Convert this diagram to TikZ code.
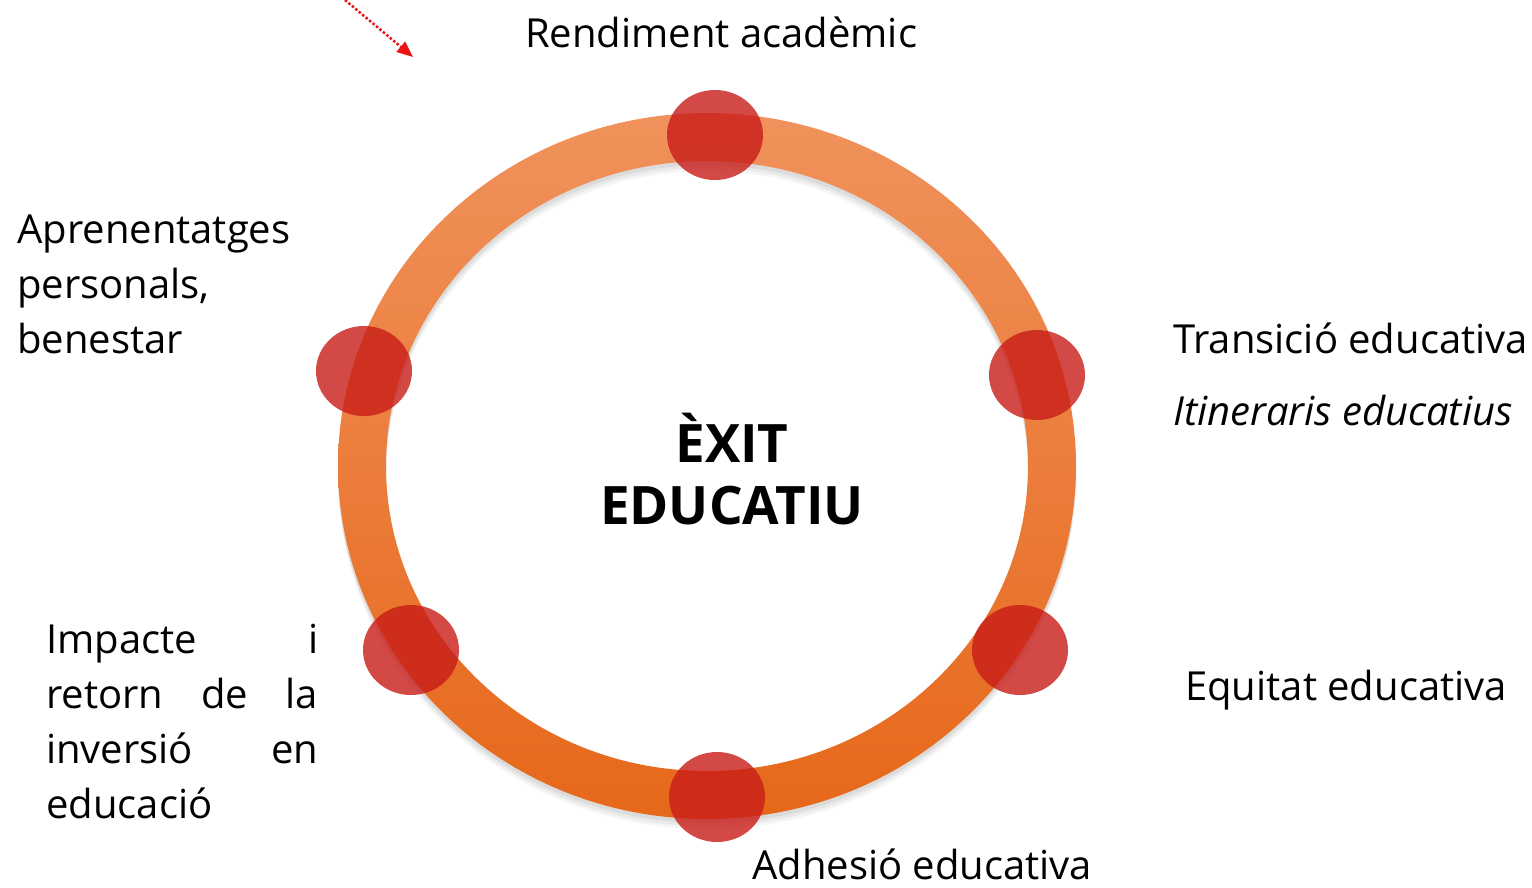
\documentclass[tikz,border=0pt]{standalone}
\usepackage{fontspec}
\setmainfont{Open Sans}
\usetikzlibrary{arrows.meta,calc,shapes.geometric}
\definecolor{ringtop}{RGB}{240,146,92}
\definecolor{ringbot}{RGB}{230,104,26}
\definecolor{dotred}{RGB}{200,28,24}
\definecolor{arrred}{RGB}{235,20,20}
\tikzset{
  lab/.style={anchor=base west, inner sep=0pt, font=\fontsize{40}{55}\selectfont},
  dot/.style={draw=none, fill=dotred, fill opacity=0.8, ellipse, minimum width=96pt, minimum height=90pt, inner sep=0pt},
  ttl/.style={align=center, inner sep=0pt, font=\bfseries\fontsize{53}{63}\selectfont},
  pointer/.style={arrred, line width=2.5pt, dotted, -{Triangle[length=16pt,width=13pt]}}
}
\begin{document}
\begin{tikzpicture}[x=1pt,y=-1pt]
\useasboundingbox (0,0) rectangle (1532,887);
\coordinate (c) at (707,466);
% soft shadow
\foreach \o/\a in {10/0.04,7/0.05,4/0.06}{
  \fill[black, opacity=\a, even odd rule] ($(c)+(0,\o)$) ellipse (369pt and 353pt) ($(c)+(0,\o)$) ellipse (321pt and 305pt);
}
\shade[top color=ringtop, bottom color=ringbot, even odd rule] (c) ellipse (369pt and 353pt) (c) ellipse (321pt and 305pt);
% dots
\node[dot] (d1) at (715,135) {};
\node[dot] (d2) at (364,371) {};
\node[dot] (d3) at (1037,375) {};
\node[dot] (d4) at (411,650) {};
\node[dot] (d5) at (1020,650) {};
\node[dot] (d6) at (717,797) {};
% title
\node[ttl] (t) at (732,469) {ÈXIT\\[-1pt]EDUCATIU};
% labels
\node[lab] (l1) at (525,47) {Rendiment acadèmic};
\node[lab, align=left, anchor=north west] (l2) at (17,215) {Aprenentatges\\personals,\\benestar};
\node[lab] (l3) at (1173,353) {Transició educativa};
\node[lab] (l3b) at (1173,425) {\itshape Itineraris educatius};
\node[lab] (l4) at (1185,700) {Equitat educativa};
\node[lab] (l5) at (752,879) {Adhesió educativa};
\node[lab, align=left, anchor=north west] (l6) at (46,624) {\hbox to 272pt{Impacte\hfill i}\\\hbox to 272pt{retorn\hfill de\hfill la}\\\hbox to 272pt{inversió\hfill en}\\educació};
% pointer
\coordinate (p0) at (345,0);
\coordinate (p1) at (413,57);
\draw[pointer] (p0) -- (p1);
\end{tikzpicture}
\end{document}
